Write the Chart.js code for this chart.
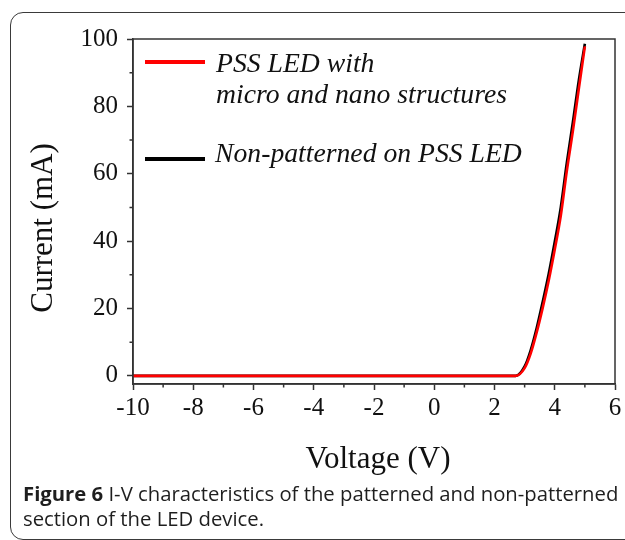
<!DOCTYPE html>
<html><head><meta charset="utf-8">
<script src="https://cdn.jsdelivr.net/npm/chart.js@4"></script>
<style>
html,body{margin:0;padding:0;background:#fff;width:625px;height:540px;overflow:hidden;}
#frame{position:absolute;left:10px;top:12px;width:700px;height:526px;border:1.6px solid #3a3a3a;border-radius:13px;}
#wrap{position:absolute;left:0;top:0;width:625px;height:480px;}
#cap{position:absolute;left:23px;top:481px;font-family:'Open Sans';font-size:20.3px;line-height:25px;color:#1e1e1e;width:610px;white-space:nowrap;}
#cap b{font-weight:700;}
</style></head>
<body>
<div id="frame"></div>
<div id="wrap"><canvas id="c" width="625" height="480"></canvas></div>
<div id="cap"><b>Figure 6</b> I-V characteristics of the patterned and non-patterned<br>section of the LED device.</div>
<script>
const seriesNames = ['PSS LED with', 'micro and nano structures', 'Non-patterned on PSS LED'];
const voltsPSS = [-10, 2.7, 3.0, 3.2, 3.4, 3.6, 3.8, 4.0, 4.2, 4.4, 4.6, 4.8, 5.0];
const currPSS  = [0, 0, 2.3, 6.6, 12.9, 20.2, 28.3, 37.5, 47.5, 60.8, 72.6, 85.3, 97.8];
const voltsNon = [-10, 2.7, 3.0, 3.2, 3.4, 3.6, 3.8, 4.0, 4.2, 4.4, 4.6, 4.8, 5.0];
const currNon  = [0, 0, 2.8, 7.6, 14.2, 22.0, 30.3, 39.8, 50.0, 63.2, 75.2, 87.8, 98.6];
const xTicks = [-10, -8, -6, -4, -2, 0, 2, 4, 6];
const yTicks = [0, 20, 40, 60, 80, 100];
const xMinor = [-9, -7, -5, -3, -1, 1, 3, 5];
const yMinor = [10, 30, 50, 70, 90];

const toXY = (xs, ys) => xs.map((v, i) => ({x: v, y: ys[i]}));

const deco = {
  id: 'deco',
  afterDraw(chart) {
    const ctx = chart.ctx, a = chart.chartArea, xs = chart.scales.x, ys = chart.scales.y;
    ctx.save();
    ctx.strokeStyle = '#333'; ctx.lineWidth = 1.5;
    ctx.strokeRect(a.left, a.top, a.right - a.left, a.bottom - a.top);
    ctx.beginPath();
    xMinor.forEach(v => { const p = xs.getPixelForValue(v); ctx.moveTo(p, a.bottom); ctx.lineTo(p, a.bottom + 3.5); });
    yMinor.forEach(v => { const p = ys.getPixelForValue(v); ctx.moveTo(a.left, p); ctx.lineTo(a.left - 3.5, p); });
    ctx.stroke();
    // axis titles
    ctx.fillStyle = '#111';
    ctx.font = '31px "Liberation Serif"';
    ctx.textAlign = 'center'; ctx.textBaseline = 'alphabetic';
    ctx.fillText('Voltage (V)', 378, 468);
    ctx.save();
    ctx.translate(52, 228); ctx.rotate(-Math.PI / 2);
    ctx.fillText('Current (mA)', 0, 0);
    ctx.restore();
    // legend
    const ds = chart.data.datasets;
    ctx.lineWidth = 4;
    ctx.strokeStyle = ds[0].borderColor;
    ctx.beginPath(); ctx.moveTo(145, 62); ctx.lineTo(205, 62); ctx.stroke();
    ctx.strokeStyle = ds[1].borderColor;
    ctx.beginPath(); ctx.moveTo(145, 159); ctx.lineTo(205, 159); ctx.stroke();
    ctx.font = 'italic 27.7px "Liberation Serif"';
    ctx.textAlign = 'left';
    ctx.fillText(seriesNames[0], 216, 72);
    ctx.fillText(seriesNames[1], 216, 103);
    ctx.fillText(seriesNames[2], 215, 162);
    ctx.restore();
  }
};

new Chart(document.getElementById('c'), {
  type: 'line',
  data: {
    datasets: [
      { label: seriesNames[0] + ' ' + seriesNames[1], data: toXY(voltsPSS, currPSS), borderColor: '#ff0000', borderWidth: 2.6, pointRadius: 0, cubicInterpolationMode: 'monotone', fill: false },
      { label: seriesNames[2], data: toXY(voltsNon, currNon), borderColor: '#000000', borderWidth: 2.6, pointRadius: 0, cubicInterpolationMode: 'monotone', fill: false }
    ]
  },
  options: {
    responsive: false,
    animation: false,
    layout: { padding: { left: 0, right: 10, top: 39, bottom: 0 } },
    plugins: { legend: { display: false }, tooltip: { enabled: false } },
    scales: {
      x: {
        type: 'linear', min: -10, max: 6,
        afterBuildTicks: s => { s.ticks = xTicks.map(v => ({value: v})); },
        afterFit: s => { s.height = 96; },
        grid: { drawOnChartArea: false, drawTicks: true, tickLength: 6, tickColor: '#333', tickWidth: 1.5 },
        border: { display: true, color: '#333', width: 1.5 },
        ticks: { font: { family: 'Liberation Serif', size: 25 }, color: '#111', padding: 3, maxRotation: 0, autoSkip: false }
      },
      y: {
        type: 'linear', min: -2.4, max: 100,
        afterBuildTicks: s => { s.ticks = yTicks.map(v => ({value: v})); },
        afterFit: s => { s.width = 133; },
        grid: { drawOnChartArea: false, drawTicks: true, tickLength: 6, tickColor: '#333', tickWidth: 1.5 },
        border: { display: true, color: '#333', width: 1.5 },
        ticks: { font: { family: 'Liberation Serif', size: 25 }, color: '#111', padding: 9, autoSkip: false }
      }
    }
  },
  plugins: [deco]
});
</script>
</body></html>
